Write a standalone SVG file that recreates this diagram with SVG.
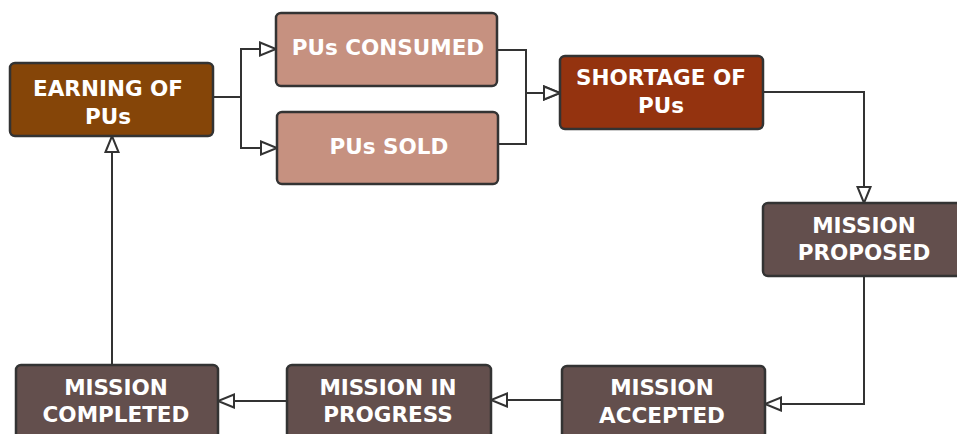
<svg xmlns="http://www.w3.org/2000/svg" width="957" height="434" viewBox="0 0 957 434">
<style>
.box{stroke:#333;stroke-width:2.5}
.t{font-family:"DejaVu Sans","Liberation Sans",sans-serif;font-weight:700;font-size:21.5px;fill:#fff;text-anchor:middle}
.c{fill:none;stroke:#333;stroke-width:2}
.earn{fill:#854508}.pu{fill:#c69180}.short{fill:#94330f}.mis{fill:#634f4d}
</style>
<defs>
<marker id="ah" markerUnits="userSpaceOnUse" markerWidth="20" markerHeight="17" viewBox="-2 -2 20 17" refX="16" refY="6.5" orient="auto">
<path d="M0,0 L16,6.5 L0,13 Z" fill="#fff" stroke="#333" stroke-width="2"/>
</marker>
</defs>
<rect width="957" height="434" fill="#fff"/>
<g id="connectors">
<path class="c" d="M213,97 H241 V49 H276" marker-end="url(#ah)"/>
<path class="c" d="M213,97 H241 V148 H277" marker-end="url(#ah)"/>
<path class="c" d="M497,50 H526 V93 H560" marker-end="url(#ah)"/>
<path class="c" d="M498,144 H526 V93 H560" marker-end="url(#ah)"/>
<path class="c" d="M763,92 H864 V203" marker-end="url(#ah)"/>
<path class="c" d="M864,276 V404 H765" marker-end="url(#ah)"/>
<path class="c" d="M562,400 H491" marker-end="url(#ah)"/>
<path class="c" d="M287,401 H218" marker-end="url(#ah)"/>
<path class="c" d="M112,365 V136" marker-end="url(#ah)"/>
</g>
<g id="earning">
<rect class="box earn" x="10" y="63" width="203" height="73" rx="5"/>
<text class="t" x="108" y="96">EARNING OF</text>
<text class="t" x="108" y="124">PUs</text>
</g>
<g id="consumed">
<rect class="box pu" x="276" y="13" width="221" height="73" rx="5"/>
<text class="t" x="388" y="55">PUs CONSUMED</text>
</g>
<g id="sold">
<rect class="box pu" x="277" y="112" width="221" height="72" rx="5"/>
<text class="t" x="389" y="154">PUs SOLD</text>
</g>
<g id="shortage">
<rect class="box short" x="560" y="56" width="203" height="73" rx="5"/>
<text class="t" x="661" y="85">SHORTAGE OF</text>
<text class="t" x="661" y="113">PUs</text>
</g>
<g id="proposed">
<rect class="box mis" x="763" y="203" width="203" height="73" rx="5"/>
<text class="t" x="864" y="233">MISSION</text>
<text class="t" x="864" y="260">PROPOSED</text>
</g>
<g id="accepted">
<rect class="box mis" x="562" y="366" width="203" height="73" rx="5"/>
<text class="t" x="662" y="395">MISSION</text>
<text class="t" x="662" y="423">ACCEPTED</text>
</g>
<g id="inprogress">
<rect class="box mis" x="287" y="365" width="204" height="74" rx="5"/>
<text class="t" x="388" y="395">MISSION IN</text>
<text class="t" x="388" y="422">PROGRESS</text>
</g>
<g id="completed">
<rect class="box mis" x="16" y="365" width="202" height="74" rx="5"/>
<text class="t" x="116" y="395">MISSION</text>
<text class="t" x="116" y="422">COMPLETED</text>
</g>
</svg>
